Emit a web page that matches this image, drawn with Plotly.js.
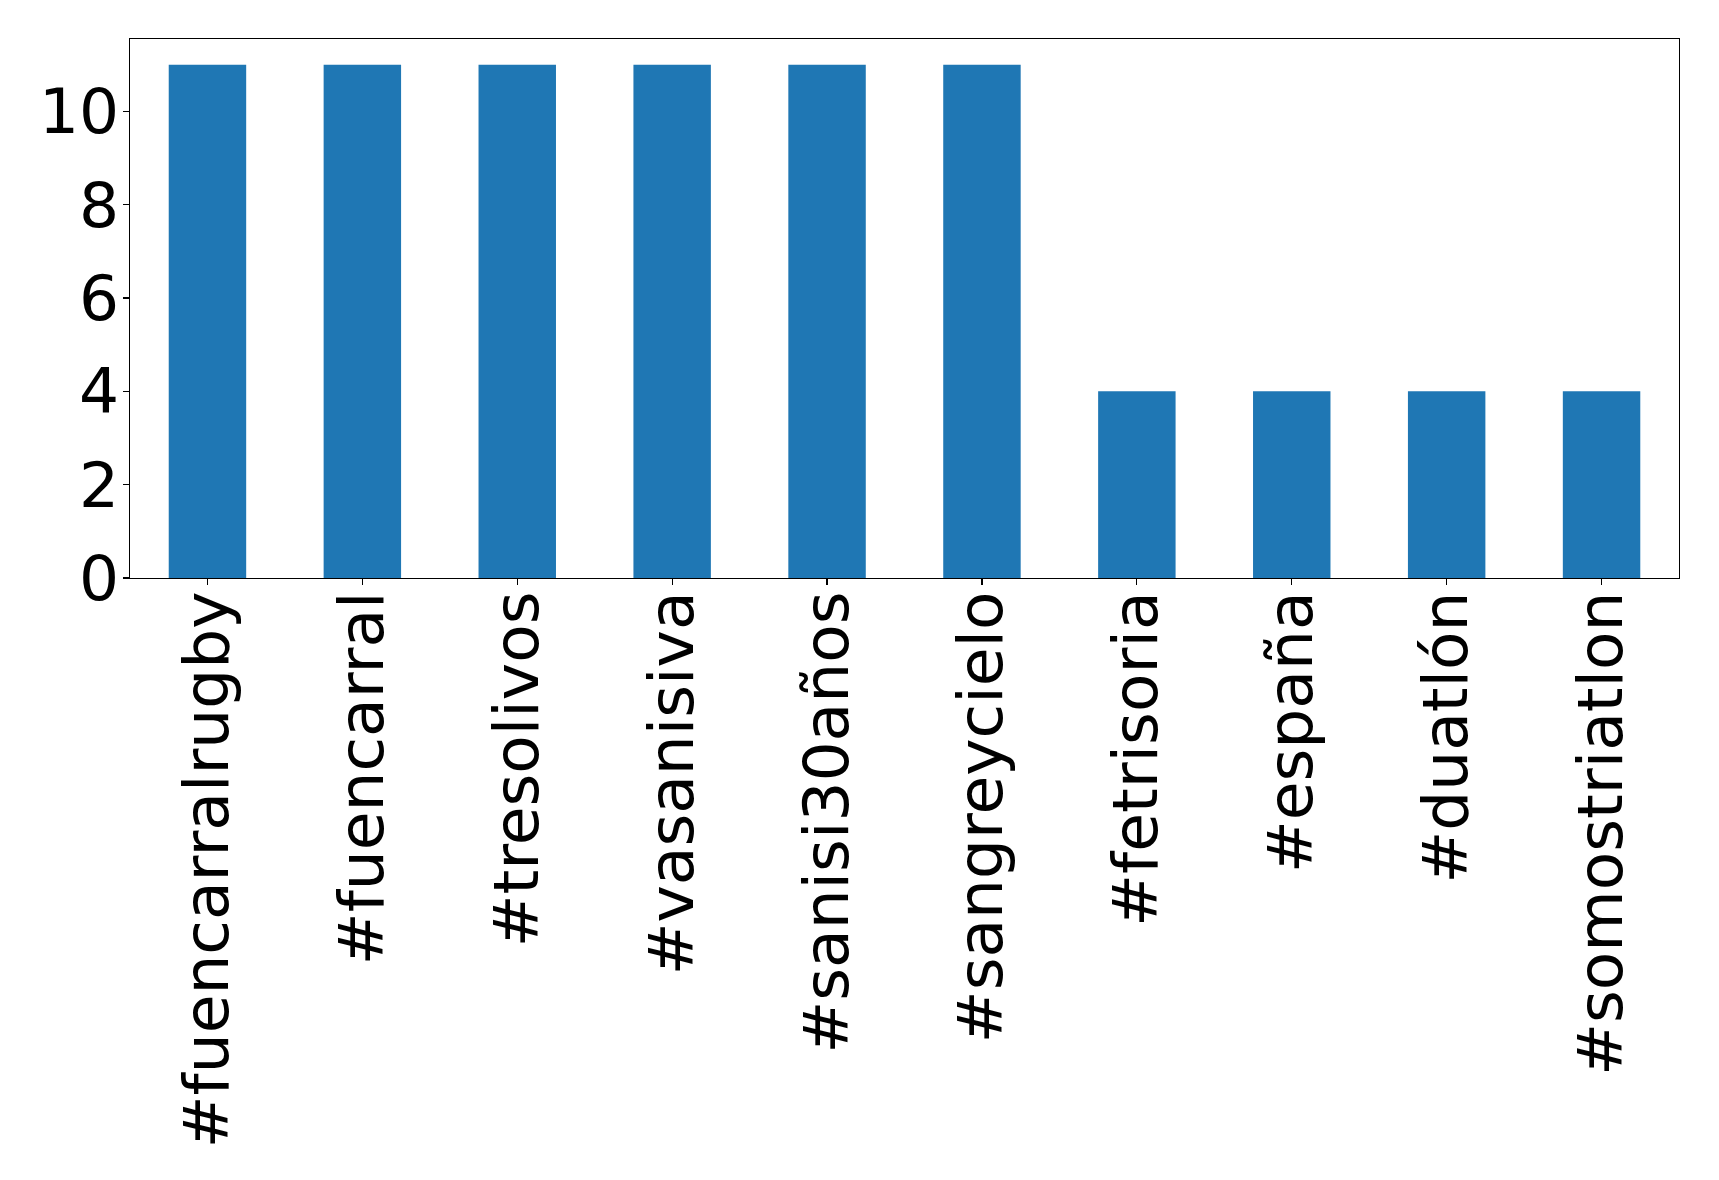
<!DOCTYPE html>
<html>
<head>
<meta charset="utf-8">
<script src="https://cdn.plot.ly/plotly-3.0.1.min.js"></script>
<style>html,body{margin:0;padding:0;background:#fff;}</style>
</head>
<body>
<div id="chart" style="width:1719px;height:1180px;"></div>
<script>
const categories = ["#fuencarralrugby", "#fuencarral", "#tresolivos", "#vasanisiva", "#sanisi30años", "#sangreycielo", "#fetrisoria", "#españa", "#duatlón", "#somostriatlon"];
const counts = [11, 11, 11, 11, 11, 11, 4, 4, 4, 4];
const yTicks = [0, 2, 4, 6, 8, 10];

const font = {family: "DejaVu Sans", size: 63, color: "#000"};
Plotly.newPlot("chart", [{
  type: "bar",
  x: categories,
  y: counts,
  marker: {color: "#1f77b4", line: {width: 0}},
  hoverinfo: "x+y"
}], {
  width: 1719, height: 1180,
  margin: {l: 130, r: 40, t: 39, b: 602, pad: 0},
  paper_bgcolor: "#fff", plot_bgcolor: "#fff",
  bargap: 0.5,
  showlegend: false,
  font: font,
  xaxis: {
    type: "category",
    range: [-0.5, 9.5],
    tickangle: -90,
    ticks: "outside", ticklen: 6, tickwidth: 1.3, tickcolor: "#000",
    ticklabelstandoff: -19,
    showline: true, mirror: true, linecolor: "#000", linewidth: 1.3,
    showgrid: false, zeroline: false, automargin: false,
    tickfont: font
  },
  yaxis: {
    range: [0, 11.55],
    tickmode: "array", tickvals: yTicks, ticktext: yTicks.map(String),
    ticks: "outside", ticklen: 6, tickwidth: 1.3, tickcolor: "#000",
    ticklabelstandoff: -9,
    showline: true, mirror: true, linecolor: "#000", linewidth: 1.3,
    showgrid: false, zeroline: false, automargin: false,
    tickfont: font
  }
}, {displayModeBar: false, staticPlot: true});
</script>
</body>
</html>
